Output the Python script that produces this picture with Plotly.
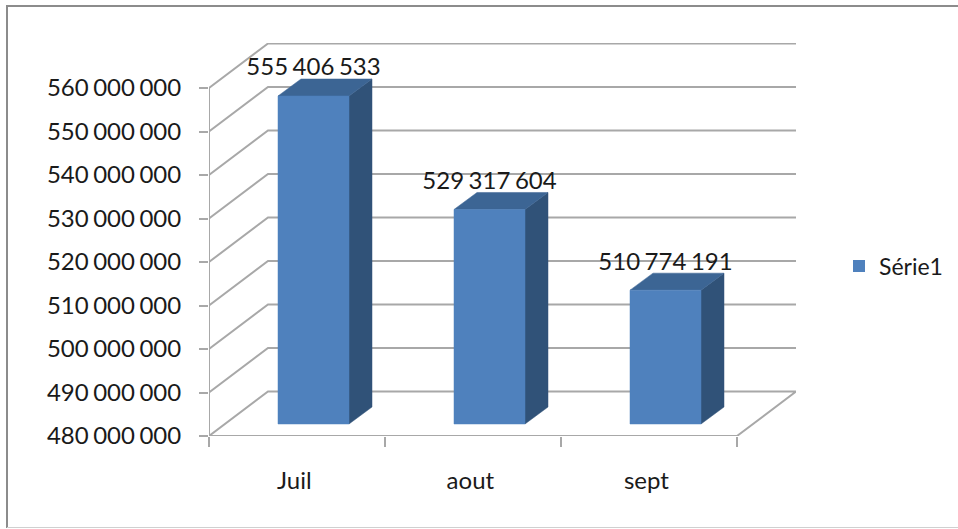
import plotly.graph_objects as go

categories = ["Juil", "aout", "sept"]
values = [555406533, 529317604, 510774191]
series_name = "Série1"
y_ticks = [480000000, 490000000, 500000000, 510000000, 520000000,
           530000000, 540000000, 550000000, 560000000]

FONT = "Lato, Carlito, sans-serif"
FS = 24
TXT = "#1a1a1a"
GRID = "#a8a8a8"
FRONT, TOP, SIDE = "#4f81bd", "#3c6594", "#305278"

# plot area in window pixels
L, R, T, B = 209, 796, 43, 436
W, H = 958, 529
PX_X = 176.0            # pixels per category
PX_Y = 4.35e-6          # pixels per value unit
Y0 = y_ticks[0]
ux = lambda px: px / PX_X
uy = lambda px: px / PX_Y

wall_dx, wall_dy = ux(59), uy(44.5)
bar_off_x, bar_off_y = ux(69), uy(12)   # left edge of a bar inside its slot
bar_w = ux(71)
bar_dx, bar_dy = ux(23), uy(17)
label_gap = uy(26.5)

fmt = lambda v: f"{v:,}".replace(",", "\u2009\u200a")

fig = go.Figure()


def line(xs, ys):
    fig.add_trace(go.Scatter(x=xs, y=ys, mode="lines", showlegend=False, hoverinfo="skip",
                             cliponaxis=False, line=dict(color=GRID, width=2)))


def poly(xs, ys, color):
    fig.add_trace(go.Scatter(x=xs, y=ys, mode="lines", fill="toself", fillcolor=color,
                             line=dict(color=color, width=0.5), showlegend=False,
                             hoverinfo="skip", cliponaxis=False))


n = len(categories)
for v in y_ticks[1:]:
    line([0, wall_dx, n + wall_dx], [v, v + wall_dy, v + wall_dy])
line([0, wall_dx, n + wall_dx, n], [Y0, Y0 + wall_dy, Y0 + wall_dy, Y0])
line([0, 0], [Y0, y_ticks[-1]])
line([0, n], [Y0, Y0])

for i, v in enumerate(values):
    x0 = i + bar_off_x
    x1 = x0 + bar_w
    y0 = Y0 + bar_off_y
    y1 = v + bar_off_y
    poly([x1, x1 + bar_dx, x1 + bar_dx, x1, x1], [y0, y0 + bar_dy, y1 + bar_dy, y1, y0], SIDE)
    poly([x0, x0 + bar_dx, x1 + bar_dx, x1, x0], [y1, y1 + bar_dy, y1 + bar_dy, y1, y1], TOP)
    poly([x0, x1, x1, x0, x0], [y0, y0, y1, y1, y0], FRONT)

fig.add_trace(go.Scatter(
    x=[i + bar_off_x + bar_w / 2 for i in range(n)],
    y=[v + bar_off_y + label_gap for v in values],
    text=[fmt(v) for v in values], mode="text", textposition="middle center",
    textfont=dict(family=FONT, size=FS, color=TXT),
    showlegend=False, hoverinfo="skip", cliponaxis=False))

fig.add_trace(go.Scatter(x=[None], y=[None], mode="markers", name=series_name,
                         marker=dict(symbol="square", size=17, color=FRONT)))
fig.add_trace(go.Scatter(x=[None], y=[None], xaxis="x2", showlegend=False, hoverinfo="skip"))

fig.update_layout(
    width=W, height=H, autosize=False,
    margin=dict(l=L, r=W - R, t=T, b=H - B, pad=0),
    paper_bgcolor="white", plot_bgcolor="white",
    font=dict(family=FONT, size=FS, color=TXT),
    xaxis=dict(range=[0, (R - L) / PX_X], showgrid=False, zeroline=False, showline=False,
               tickmode="array", tickvals=list(range(n + 1)), ticktext=[""] * (n + 1),
               ticks="outside", ticklen=10, tickwidth=2, tickcolor=GRID),
    xaxis2=dict(range=[0, (R - L) / PX_X], overlaying="x", anchor="y", side="bottom",
                showgrid=False, zeroline=False, showline=False, ticks="",
                tickmode="array", tickvals=[i + 0.485 for i in range(n)], ticktext=categories,
                ticklabelstandoff=28, tickfont=dict(family=FONT, size=24, color=TXT)),
    yaxis=dict(range=[Y0, Y0 + uy(B - T)], showgrid=False, zeroline=False, showline=False,
               tickmode="array", tickvals=y_ticks, ticktext=[fmt(v) for v in y_ticks],
               ticks="outside", ticklen=9, tickwidth=2, tickcolor=GRID, ticklabelstandoff=13),
    legend=dict(xref="container", yref="container", x=839 / W, y=1 - 266 / H,
                xanchor="left", yanchor="middle",
                font=dict(family=FONT, size=23, color=TXT), bgcolor="rgba(0,0,0,0)",
                itemsizing="constant"),
    showlegend=True,
    shapes=[
        dict(type="line", xref="paper", yref="paper", x0=(6 - L) / (R - L), x1=(W - L) / (R - L),
             y0=(B - 6) / (B - T), y1=(B - 6) / (B - T), line=dict(color="#8c8c8c", width=2)),
        dict(type="line", xref="paper", yref="paper", x0=(7 - L) / (R - L), x1=(7 - L) / (R - L),
             y0=(B - 6) / (B - T), y1=(B - 528) / (B - T), line=dict(color="#8c8c8c", width=2)),
        dict(type="line", xref="paper", yref="paper", x0=(7 - L) / (R - L), x1=(W - L) / (R - L),
             y0=(B - 527.5) / (B - T), y1=(B - 527.5) / (B - T), line=dict(color="#d0d0d0", width=1)),
    ],
)

fig.write_html("out.html", config={"displayModeBar": False},
               post_script="document.body.style.margin='0';document.body.style.overflow='hidden';")
